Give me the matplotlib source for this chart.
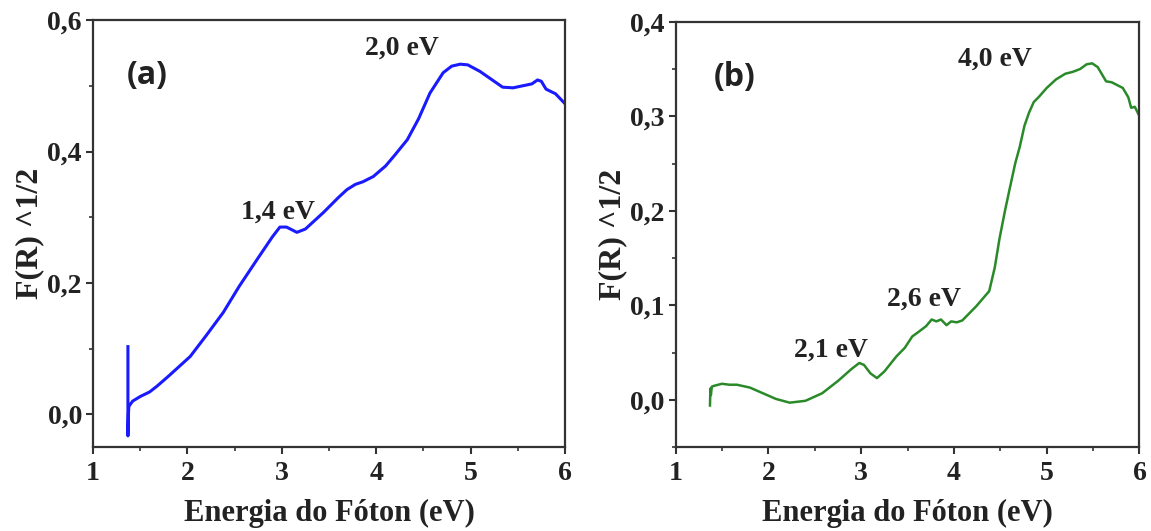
import matplotlib
matplotlib.use("Agg")
import matplotlib.pyplot as plt
from matplotlib.ticker import MultipleLocator, FuncFormatter

# ---- data ----
xa = [1.37, 1.37, 1.375, 1.38, 1.42, 1.5, 1.6, 1.68, 1.8, 2.03, 2.2, 2.38, 2.55,
      2.74, 2.9, 2.98, 3.05, 3.16, 3.25, 3.44, 3.6, 3.69, 3.78, 3.86, 3.97, 4.1,
      4.2, 4.33, 4.45, 4.57, 4.71, 4.8, 4.89, 4.97, 5.1, 5.2, 5.34, 5.45, 5.55,
      5.65, 5.71, 5.75, 5.8, 5.9, 6.0]
ya = [0.103, -0.033, 0.0, 0.012, 0.02, 0.027, 0.034, 0.043, 0.058, 0.088, 0.12,
      0.155, 0.195, 0.236, 0.27, 0.285, 0.285, 0.277, 0.282, 0.307, 0.33, 0.342,
      0.35, 0.354, 0.362, 0.378, 0.395, 0.418, 0.45, 0.489, 0.52, 0.53, 0.533,
      0.532, 0.522, 0.512, 0.498, 0.497, 0.5, 0.503, 0.509, 0.507, 0.495, 0.488,
      0.473]

xb = [1.37, 1.375, 1.38, 1.39, 1.42, 1.5, 1.58, 1.66, 1.8, 1.94, 2.08, 2.23, 2.4,
      2.58, 2.75, 2.9, 2.98, 3.03, 3.1, 3.17, 3.25, 3.38, 3.47, 3.55, 3.62, 3.7,
      3.76, 3.81, 3.86, 3.92, 3.97, 4.03, 4.09, 4.17, 4.24, 4.31, 4.38, 4.44,
      4.49, 4.55, 4.6, 4.66, 4.71, 4.76, 4.81, 4.86, 4.92, 5.0, 5.1, 5.2, 5.28,
      5.36, 5.43, 5.49, 5.55, 5.64, 5.7, 5.76, 5.82, 5.88, 5.91, 5.95, 6.0]
yb = [-0.006, 0.012, 0.005, 0.014, 0.015, 0.017, 0.016, 0.016, 0.013, 0.007,
      0.001, -0.003, -0.001, 0.007, 0.02, 0.033, 0.039, 0.037, 0.028, 0.023,
      0.03, 0.046, 0.055, 0.067, 0.072, 0.078, 0.085, 0.083, 0.085, 0.079, 0.083,
      0.082, 0.084, 0.092, 0.099, 0.107, 0.115, 0.14, 0.17, 0.2, 0.223, 0.25,
      0.268, 0.29, 0.304, 0.315, 0.321, 0.33, 0.339, 0.345, 0.347, 0.35, 0.355,
      0.356, 0.352, 0.337, 0.336, 0.333, 0.33, 0.32, 0.309, 0.31, 0.30]

xticks = [1, 2, 3, 4, 5, 6]
yticks_a = [0.0, 0.2, 0.4, 0.6]
yticks_b = [0.0, 0.1, 0.2, 0.3, 0.4]

ann_a = [("1,4 eV", 2.96, 0.308), ("2,0 eV", 4.27, 0.558)]
ann_b = [("2,1 eV", 2.68, 0.053), ("2,6 eV", 3.68, 0.107), ("4,0 eV", 4.44, 0.36)]

xlabel = "Energia do Fóton (eV)"
ylabel = "F(R) ^1/2"

serif = "Liberation Serif"
comma = FuncFormatter(lambda v, p: f"{v:.1f}".replace(".", ","))

fig = plt.figure(figsize=(11.51, 5.31), dpi=100)
ax_a = fig.add_axes([0.0808, 0.158, 0.410, 0.804])
ax_b = fig.add_axes([0.587, 0.158, 0.403, 0.801])


def style(ax, yticks, ymin, ymax, yminor):
    ax.set_xlim(1, 6)
    ax.set_ylim(ymin, ymax)
    ax.set_xticks(xticks)
    ax.set_yticks(yticks)
    ax.xaxis.set_minor_locator(MultipleLocator(0.5))
    ax.yaxis.set_minor_locator(MultipleLocator(yminor))
    ax.yaxis.set_major_formatter(comma)
    ax.tick_params(which="major", direction="out", length=5, width=1.5,
                   color="#333333", pad=3)
    ax.tick_params(axis="x", which="major", pad=5)
    ax.tick_params(which="minor", direction="out", length=3, width=1.2,
                   color="#333333")
    for lab in ax.get_xticklabels() + ax.get_yticklabels():
        lab.set_fontfamily(serif)
        lab.set_fontweight("bold")
        lab.set_fontsize(20)
        lab.set_color("#222222")
    for s in ax.spines.values():
        s.set_linewidth(1.6)
        s.set_color("#333333")
    ax.set_xlabel(xlabel, fontfamily=serif, fontweight="bold", fontsize=22,
                  color="#222222", labelpad=9)
    ax.set_ylabel(ylabel, fontfamily=serif, fontweight="bold", fontsize=23,
                  color="#222222", labelpad=2)


style(ax_a, yticks_a, -0.05, 0.6, 0.1)
style(ax_b, yticks_b, -0.05, 0.4, 0.05)

ax_a.plot(xa, ya, color="#1a1aff", lw=2.2)
ax_b.plot(xb, yb, color="#2a8a2a", lw=1.8)

for t, x, y in ann_a:
    ax_a.text(x, y, t, ha="center", va="center", fontfamily=serif,
              fontweight="bold", fontsize=20, color="#222222")
for t, x, y in ann_b:
    ax_b.text(x, y, t, ha="center", va="center", fontfamily=serif,
              fontweight="bold", fontsize=20, color="#222222")

ax_a.text(0.115, 0.87, "(a)", transform=ax_a.transAxes, ha="center", va="center",
          fontfamily="Open Sans", fontweight="bold", fontsize=23, color="#222222")
ax_b.text(0.128, 0.87, "(b)", transform=ax_b.transAxes, ha="center", va="center",
          fontfamily="Open Sans", fontweight="bold", fontsize=23, color="#222222")

fig.savefig("out.png", dpi=100)
